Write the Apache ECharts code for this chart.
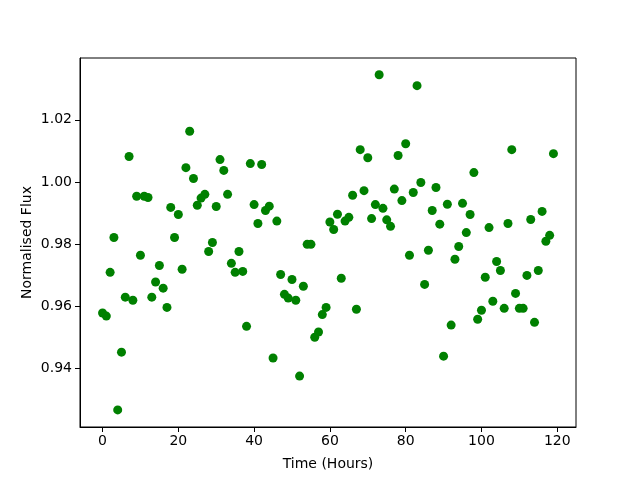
<!DOCTYPE html>
<html>
<head>
<meta charset="utf-8">
<script src="https://cdn.jsdelivr.net/npm/echarts@6/dist/echarts.min.js"></script>
<style>
	html, body { margin: 0; padding: 0; background: #fff; }
	#main { width: 640px; height: 480px; }
</style>
</head>
<body>
<div id="main"></div>
<script>
	// hourly normalised flux (hour 0..119)
	var hours = [];
	for (var i = 0; i < 120; i++) hours.push(i);
	var flux = [
		0.9578, 0.9568, 0.9709, 0.9821, 0.9266, 0.9452, 0.9629, 1.0082, 0.9619, 0.9954,
		0.9764, 0.9954, 0.9950, 0.9629, 0.9678, 0.9731, 0.9658, 0.9596, 0.9918, 0.9821,
		0.9895, 0.9719, 1.0046, 1.0163, 1.0011, 0.9925, 0.9948, 0.9960, 0.9776, 0.9805,
		0.9921, 1.0072, 1.0037, 0.9960, 0.9738, 0.9709, 0.9776, 0.9712, 0.9535, 1.0059,
		0.9927, 0.9866, 1.0056, 0.9908, 0.9922, 0.9433, 0.9874, 0.9702, 0.9638, 0.9626,
		0.9686, 0.9619, 0.9375, 0.9664, 0.9799, 0.9799, 0.9500, 0.9517, 0.9573, 0.9596,
		0.9871, 0.9847, 0.9896, 0.9690, 0.9874, 0.9886, 0.9957, 0.9590, 1.0104, 0.9972,
		1.0078, 0.9882, 0.9927, 1.0345, 0.9915, 0.9878, 0.9857, 0.9977, 1.0085, 0.9940,
		1.0123, 0.9764, 0.9966, 1.0310, 0.9998, 0.9670, 0.9780, 0.9908, 0.9982, 0.9864,
		0.9439, 0.9928, 0.9539, 0.9751, 0.9792, 0.9931, 0.9837, 0.9895, 1.0030, 0.9558,
		0.9587, 0.9693, 0.9853, 0.9616, 0.9744, 0.9715, 0.9593, 0.9866, 1.0104, 0.9641,
		0.9593, 0.9593, 0.9699, 0.9879, 0.9548, 0.9715, 0.9905, 0.9809, 0.9828, 1.0091
	];
	var xTicks = [0, 20, 40, 60, 80, 100, 120];
	var yTicks = [0.94, 0.96, 0.98, 1.00, 1.02];

	var points = [];
	for (var k = 0; k < hours.length; k++) {
		points.push([hours[k], flux[k]]);
	}

	var font = 'DejaVu Sans';
	var myChart = echarts.init(document.getElementById('main'), null, { renderer: 'canvas' });
	var option = {
		backgroundColor: '#fff',
		animation: false,
		grid: {
			left: 80, right: 64, top: 58, bottom: 53,
			show: true,
			borderColor: '#000',
			borderWidth: 1,
			containLabel: false
		},
		xAxis: {
			type: 'value',
			min: -5.95,
			max: 124.95,
			name: 'Time (Hours)',
			nameLocation: 'middle',
			nameGap: 30,
			nameMoveOverlap: false,
			nameTextStyle: { color: '#000', fontSize: 14, fontFamily: font },
			axisLine: { show: true, onZero: false, lineStyle: { color: '#000', width: 1 } },
			axisTick: { show: true, length: 5, lineStyle: { color: '#000' }, customValues: xTicks },
			axisLabel: {
				color: '#000', fontSize: 14, fontFamily: font, margin: 7,
				customValues: xTicks
			},
			splitLine: { show: false }
		},
		yAxis: {
			type: 'value',
			min: 0.9211,
			max: 1.0399,
			name: 'Normalised Flux',
			nameLocation: 'middle',
			nameGap: 46,
			nameMoveOverlap: false,
			nameTextStyle: { color: '#000', fontSize: 14, fontFamily: font },
			axisLine: { show: true, onZero: false, lineStyle: { color: '#000', width: 1 } },
			axisTick: { show: true, length: 5, lineStyle: { color: '#000' }, customValues: yTicks },
			axisLabel: {
				color: '#000', fontSize: 14, fontFamily: font, margin: 8,
				customValues: yTicks,
				formatter: function (v) { return v.toFixed(2); }
			},
			splitLine: { show: false }
		},
		series: [{
			type: 'scatter',
			data: points,
			symbol: 'circle',
			symbolSize: 9,
			itemStyle: { color: '#008000', opacity: 1 }
		}]
	};
	myChart.setOption(option);
</script>
</body>
</html>
